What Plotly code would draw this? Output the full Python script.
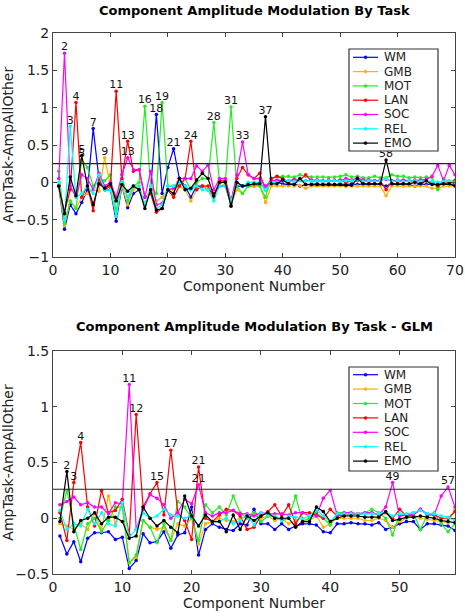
import plotly.graph_objects as go

names = ["WM", "GMB", "MOT", "LAN", "SOC", "REL", "EMO"]
colors = ["#0000ff", "#ffb000", "#22ee22", "#ff0000", "#ff00ff", "#00ffff", "#000000"]

# ---- top panel: components 1..70 ----
top_x = list(range(1, 71))
top_WM = [-0.05, -0.63, -0.3, -0.42, -0.27, -0.1, 0.72, 0.05, -0.1, -0.1,
          -0.52, -0.05, -0.34, -0.15, -0.1, -0.3, -0.1, 0.91, -0.15, 0.2,
          0.45, 0.05, -0.05, -0.2, -0.05, -0.05, -0.1, -0.15, -0.05, -0.05,
          -0.3, -0.05, -0.05, -0.05, -0.05, 0.0, -0.1, 0.0, 0.0, -0.02,
          -0.03, -0.02, -0.05, -0.03, -0.02, -0.02, -0.03, -0.02, -0.03, -0.02,
          -0.03, -0.02, -0.03, -0.02, -0.03, -0.02, -0.03, -0.05, -0.02, -0.03,
          -0.02, -0.03, -0.05, -0.02, -0.03, -0.02, -0.03, -0.02, -0.03, -0.02]
top_GMB = [-0.05, -0.58, -0.25, -0.35, -0.2, -0.15, -0.1, -0.12, 0.33, -0.05,
           -0.45, -0.05, -0.3, -0.1, -0.05, -0.3, -0.05, -0.25, -0.2, -0.1,
           -0.1, -0.05, -0.1, -0.25, -0.1, -0.05, -0.1, -0.2, 0.0, -0.05,
           -0.3, -0.1, -0.15, -0.05, -0.05, -0.05, -0.27, -0.05, -0.05, -0.05,
           -0.05, -0.05, -0.04, -0.08, -0.05, -0.05, -0.05, -0.05, -0.05, -0.05,
           -0.06, -0.05, -0.05, -0.05, -0.05, -0.05, -0.05, -0.18, -0.05, -0.05,
           -0.05, -0.05, -0.05, -0.05, -0.05, -0.08, -0.08, -0.05, -0.05, -0.05]
top_MOT = [0.15, -0.55, -0.25, -0.35, 0.3, 0.2, -0.05, 0.05, 0.02, 0.1,
           -0.4, 0.1, -0.25, -0.05, 0.0, 1.02, -0.05, -0.15, 1.07, -0.05,
           -0.05, -0.05, 0.05, -0.1, 0.0, 0.05, 0.05, 0.8, 0.0, 0.0,
           1.01, -0.05, -0.15, -0.05, -0.03, -0.05, -0.2, 0.05, 0.08, 0.08,
           0.08, 0.07, 0.1, 0.08, 0.07, 0.07, 0.07, 0.06, 0.07, 0.08,
           0.1, 0.07, 0.08, 0.06, 0.06, 0.08, 0.06, 0.06, 0.1, 0.08,
           0.08, 0.06, 0.07, 0.06, 0.07, 0.06, -0.1, 0.05, 0.0, 0.03]
top_LAN = [-0.05, -0.4, -0.1, 1.07, -0.2, -0.05, -0.38, 0.05, -0.1, -0.05,
           1.22, 0.05, 0.55, 0.15, 0.17, -0.2, -0.15, -0.4, -0.35, -0.1,
           -0.2, -0.05, 0.05, 0.55, -0.1, -0.05, -0.05, -0.2, 0.02, 0.02,
           -0.25, 0.05, 0.2, 0.1, 0.05, 0.12, -0.1, 0.05, 0.08, 0.05,
           0.0, 0.03, 0.03, 0.1, 0.02, 0.02, 0.01, 0.02, 0.02, 0.03,
           0.0, 0.02, 0.02, 0.03, 0.01, 0.02, 0.02, -0.1, 0.02, 0.01,
           0.01, 0.02, 0.02, 0.01, 0.02, 0.0, -0.05, 0.01, 0.0, 0.02]
top_SOC = [0.05, 1.73, -0.05, -0.2, 0.1, 0.05, -0.1, 0.12, -0.05, 0.0,
           -0.2, 0.1, 0.33, 0.17, 0.17, -0.2, 0.15, -0.3, -0.28, -0.1,
           -0.08, 0.05, 0.05, 0.05, 0.22, 0.15, 0.23, -0.1, 0.05, 0.05,
           -0.25, 0.1, 0.54, 0.1, 0.05, 0.05, -0.05, 0.02, 0.03, 0.02,
           0.02, 0.04, 0.03, 0.02, 0.03, 0.03, 0.02, 0.03, 0.03, 0.02,
           0.05, 0.03, 0.06, 0.03, 0.03, 0.02, 0.03, 0.04, 0.02, 0.03,
           0.03, 0.02, 0.03, 0.03, 0.04, 0.08, 0.23, 0.02, 0.23, 0.1]
top_REL = [0.0, -0.5, 0.75, -0.2, -0.15, -0.05, -0.15, 0.1, -0.1, -0.1,
           -0.45, 0.0, -0.2, -0.05, -0.05, -0.3, -0.05, -0.35, -0.3, -0.05,
           -0.05, 0.0, -0.05, -0.1, -0.05, -0.1, -0.1, -0.25, -0.05, -0.05,
           -0.25, 0.0, -0.05, 0.0, 0.0, 0.0, -0.1, 0.0, 0.0, 0.02,
           0.02, 0.01, 0.02, 0.02, 0.01, 0.02, 0.01, 0.02, 0.02, 0.01,
           0.02, 0.02, 0.03, 0.01, 0.02, 0.01, 0.02, 0.05, 0.01, 0.02,
           0.01, 0.02, 0.02, 0.01, 0.02, 0.01, 0.0, 0.01, 0.02, 0.0]
top_EMO = [-0.05, -0.42, 0.07, -0.18, 0.36, -0.05, -0.3, -0.02, -0.08, -0.02,
           -0.25, -0.03, -0.12, -0.05, -0.1, -0.35, -0.1, -0.37, -0.35, -0.1,
           -0.15, 0.05, -0.1, -0.08, 0.03, 0.12, 0.05, -0.18, 0.0, 0.0,
           -0.32, 0.0, -0.05, -0.03, -0.02, -0.02, 0.88, -0.02, -0.02, 0.03,
           -0.02, -0.03, 0.05, -0.03, -0.03, -0.03, -0.03, -0.03, -0.03, -0.03,
           -0.04, -0.04, 0.05, -0.02, -0.02, -0.02, -0.02, 0.3, -0.02, -0.02,
           -0.02, -0.02, 0.0, -0.02, 0.02, -0.03, -0.03, -0.02, -0.02, -0.05]
top_series = [top_WM, top_GMB, top_MOT, top_LAN, top_SOC, top_REL, top_EMO]
top_threshold = 0.25

# ---- bottom panel (GLM): components 1..58 ----
bot_x = list(range(1, 59))
bot_WM = [-0.16, -0.32, -0.21, -0.39, -0.18, -0.13, -0.13, -0.12, -0.19, -0.17,
          -0.45, -0.38, -0.14, -0.22, -0.21, -0.12, -0.27, -0.15, -0.13, 0.1,
          -0.33, -0.1, -0.05, -0.08, -0.1, -0.11, -0.05, -0.06, 0.08, -0.05,
          -0.05, -0.1, -0.05, -0.1, -0.07, -0.05, -0.05, -0.06, -0.12, -0.13,
          -0.05, -0.05, -0.04, -0.05, -0.05, -0.06, -0.04, -0.1, -0.08, -0.05,
          -0.03, -0.03, -0.1, -0.05, -0.05, -0.06, -0.07, -0.11]
bot_GMB = [-0.05, -0.07, -0.1, -0.05, -0.1, 0.05, -0.1, 0.2, -0.05, 0.15,
           -0.4, -0.35, -0.02, -0.08, -0.1, -0.08, -0.2, -0.05, -0.07, 0.0,
           -0.23, -0.05, -0.03, 0.0, -0.02, -0.03, 0.0, 0.02, 0.05, 0.0,
           0.02, -0.02, 0.0, -0.05, -0.02, 0.0, -0.02, 0.02, -0.08, -0.05,
           0.0, 0.0, 0.0, 0.0, -0.02, -0.02, 0.0, -0.02, -0.08, -0.03,
           0.0, 0.02, 0.0, -0.01, -0.02, -0.03, -0.04, 0.08]
bot_MOT = [0.0, 0.25, -0.05, -0.28, -0.05, 0.0, -0.12, -0.02, 0.1, 0.1,
           -0.4, -0.33, -0.02, -0.08, -0.22, -0.05, -0.2, 0.15, 0.1, 0.0,
           -0.2, 0.12, 0.05, 0.1, 0.03, 0.2, 0.05, 0.0, 0.05, -0.03,
           0.02, 0.02, -0.02, 0.0, 0.2, -0.03, 0.0, 0.05, 0.0, -0.06,
           0.05, 0.05, 0.04, 0.04, 0.05, 0.08, 0.05, 0.0, -0.15, 0.03,
           0.03, 0.05, -0.1, 0.03, 0.05, -0.05, -0.12, -0.05]
bot_LAN = [0.05, -0.2, 0.32, 0.68, 0.1, -0.07, 0.25, 0.05, 0.07, 0.17,
           -0.15, 0.93, 0.1, 0.22, 0.32, 0.03, 0.61, 0.05, -0.02, -0.19,
           0.46, 0.0, -0.03, 0.03, 0.08, 0.07, 0.02, -0.1, -0.08, 0.02,
           0.06, 0.12, 0.02, 0.12, -0.05, 0.05, 0.05, 0.03, 0.0, 0.08,
           0.02, 0.03, 0.03, 0.04, 0.04, 0.05, 0.03, 0.05, 0.0, 0.08,
           0.02, 0.03, 0.08, 0.03, 0.03, 0.0, 0.0, 0.06]
bot_SOC = [0.12, 0.15, 0.19, 0.12, 0.14, 0.1, 0.1, 0.04, 0.14, 0.13,
           1.2, -0.1, 0.08, 0.21, 0.18, 0.12, 0.0, 0.05, 0.17, 0.13,
           0.3, 0.05, 0.02, 0.05, 0.05, 0.07, 0.04, 0.04, 0.02, 0.05,
           0.04, 0.04, 0.04, 0.03, 0.05, 0.05, 0.02, 0.02, 0.18, 0.25,
           0.03, 0.05, 0.05, 0.04, 0.05, 0.05, 0.03, 0.1, 0.32, 0.02,
           0.03, 0.03, 0.08, 0.04, 0.03, 0.2, 0.28, 0.1]
bot_REL = [0.07, -0.1, -0.05, -0.07, 0.08, -0.05, 0.05, -0.05, -0.07, 0.14,
           -0.17, -0.1, 0.05, 0.0, 0.02, 0.08, 0.03, 0.02, 0.0, 0.03,
           -0.07, 0.03, -0.03, -0.03, 0.0, -0.05, -0.02, 0.03, -0.06, 0.05,
           0.03, 0.02, -0.02, 0.02, 0.01, 0.0, 0.02, 0.08, 0.02, -0.03,
           0.04, 0.04, 0.04, 0.04, 0.04, 0.04, 0.04, 0.06, 0.02, 0.04,
           0.04, 0.05, 0.07, 0.04, 0.04, 0.02, 0.01, -0.02]
bot_EMO = [-0.03, 0.42, -0.12, -0.02, 0.0, 0.05, -0.05, 0.01, 0.01, -0.03,
           -0.18, -0.16, 0.1, 0.0, -0.07, -0.02, -0.08, -0.13, 0.2, 0.02,
           -0.07, 0.03, -0.03, -0.03, -0.12, 0.03, -0.1, 0.02, -0.02, 0.02,
           0.05, 0.0, 0.0, 0.0, -0.08, -0.03, -0.03, 0.1, 0.06, -0.03,
           0.0, 0.02, 0.02, 0.02, 0.01, 0.01, 0.01, 0.06, -0.02, -0.01,
           0.01, 0.01, 0.02, 0.01, 0.0, -0.02, -0.03, -0.04]
bot_series = [bot_WM, bot_GMB, bot_MOT, bot_LAN, bot_SOC, bot_REL, bot_EMO]
bot_threshold = 0.26

FONT = "DejaVu Sans"
W, H = 465, 616


def px(xp):
    return xp / W


def py(yp):
    return 1 - yp / H


fig = go.Figure()

for name, col, ys in zip(names, colors, top_series):
    fig.add_trace(go.Scatter(x=top_x, y=ys, name=name, mode="lines+markers",
                             line=dict(color=col, width=1.2),
                             marker=dict(color=col, size=3.5),
                             xaxis="x", yaxis="y", showlegend=False))
for name, col, ys in zip(names, colors, bot_series):
    fig.add_trace(go.Scatter(x=bot_x, y=ys, name=name, mode="lines+markers",
                             line=dict(color=col, width=1.2),
                             marker=dict(color=col, size=3.5),
                             xaxis="x2", yaxis="y2", showlegend=False))

# threshold lines
fig.add_trace(go.Scatter(x=[0, 70], y=[top_threshold, top_threshold], mode="lines",
                         line=dict(color="#222222", width=1.2), showlegend=False,
                         hoverinfo="skip", xaxis="x", yaxis="y"))
fig.add_trace(go.Scatter(x=[0, 58], y=[bot_threshold, bot_threshold], mode="lines",
                         line=dict(color="#222222", width=1.2), showlegend=False,
                         hoverinfo="skip", xaxis="x2", yaxis="y2"))

# peak labels (component number above every value over the threshold)
for xs, series, thr, xa, ya in [(top_x, top_series, top_threshold, "x", "y"),
                                (bot_x, bot_series, bot_threshold, "x2", "y2")]:
    lx, ly, lt = [], [], []
    for ys in series:
        for xv, yv in zip(xs, ys):
            if yv > thr:
                lx.append(xv)
                ly.append(yv)
                lt.append(str(xv))
    fig.add_trace(go.Scatter(x=lx, y=ly, text=lt, mode="text", textposition="top center",
                             textfont=dict(family=FONT, size=11, color="#111111"),
                             showlegend=False, hoverinfo="skip", xaxis=xa, yaxis=ya,
                             cliponaxis=False))

annotations = []
annotations.append(dict(x=px(255), y=py(10), xref="paper", yref="paper", yanchor="middle",
                        text="<b>Component Amplitude Modulation By Task</b>", showarrow=False,
                        font=dict(family=FONT, size=13, color="#000")))
annotations.append(dict(x=px(255), y=py(326), xref="paper", yref="paper", yanchor="middle",
                        text="<b>Component Amplitude Modulation By Task - GLM</b>", showarrow=False,
                        font=dict(family=FONT, size=13, color="#000")))

# manual legends (compact, boxed, drawn above the data)
shapes = []
for (bx0, by0, bx1, by1, ey0, dy) in [(349, 49, 438, 151, 57.3, 14.3),
                                      (349, 367, 438, 471, 374.7, 14.4)]:
    shapes.append(dict(type="rect", xref="paper", yref="paper", layer="above",
                       x0=px(bx0), x1=px(bx1), y0=py(by1), y1=py(by0),
                       fillcolor="white", line=dict(color="#333333", width=1.2)))
    for i, (name, col) in enumerate(zip(names, colors)):
        ey = ey0 + i * dy
        shapes.append(dict(type="line", xref="paper", yref="paper", layer="above",
                           x0=px(353), x1=px(378), y0=py(ey), y1=py(ey),
                           line=dict(color=col, width=1.2)))
        shapes.append(dict(type="circle", xref="paper", yref="paper", layer="above",
                           x0=px(364), x1=px(367), y0=py(ey + 1.5), y1=py(ey - 1.5),
                           fillcolor=col, line=dict(color=col, width=0.5)))
        annotations.append(dict(x=px(381.5), y=py(ey), xref="paper", yref="paper",
                                xanchor="left", yanchor="middle", text=name, showarrow=False,
                                font=dict(family=FONT, size=12, color="#222")))

axis_common = dict(showline=True, linecolor="#444444", linewidth=1, mirror="ticks",
                   ticks="inside", ticklen=4, tickcolor="#444444", showgrid=False,
                   zeroline=False, automargin=False,
                   tickfont=dict(family=FONT, size=14, color="#222"))

xd = [px(53), px(455)]
fig.update_layout(
    width=W, height=H, margin=dict(l=0, r=0, t=0, b=0, pad=0),
    paper_bgcolor="white", plot_bgcolor="white",
    font=dict(family=FONT, color="#222"),
    xaxis=dict(domain=xd, range=[0, 70], dtick=10, anchor="y",
               title=dict(text="Component Number", font=dict(family=FONT, size=14), standoff=2),
               **axis_common),
    yaxis=dict(domain=[py(257), py(33)], range=[-1, 2], dtick=0.5, anchor="x",
               title=dict(text="AmpTask-AmpAllOther", font=dict(family=FONT, size=14), standoff=6),
               **axis_common),
    xaxis2=dict(domain=xd, range=[0, 58], dtick=10, anchor="y2",
                title=dict(text="Component Number", font=dict(family=FONT, size=14), standoff=2),
                **axis_common),
    yaxis2=dict(domain=[py(574), py(351)], range=[-0.5, 1.5], dtick=0.5, anchor="x2",
                title=dict(text="AmpTask-AmpAllOther", font=dict(family=FONT, size=14), standoff=6),
                **axis_common),
    showlegend=False,
    shapes=shapes,
    annotations=annotations,
)

fig.write_html("out.html", config={"displayModeBar": False},
               post_script="document.body.style.margin='0';")
